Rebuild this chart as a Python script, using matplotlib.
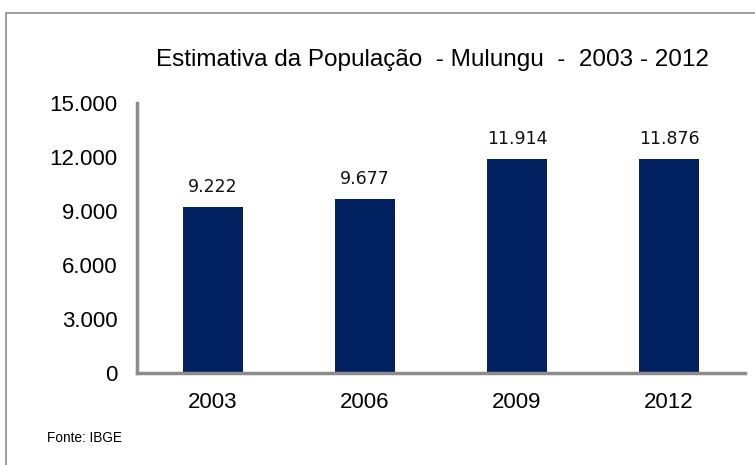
import matplotlib.pyplot as plt
from matplotlib.patches import Rectangle

# dados
anos = ["2003", "2006", "2009", "2012"]
populacao = [9222, 9677, 11914, 11876]
rotulos = ["9.222", "9.677", "11.914", "11.876"]
yticks = [0, 3000, 6000, 9000, 12000, 15000]
ytick_labels = ["0", "3.000", "6.000", "9.000", "12.000", "15.000"]

plt.rcParams['font.family'] = ['Liberation Sans', 'DejaVu Sans']

fig = plt.figure(figsize=(7.55, 4.65), dpi=100)

# moldura
fig.patches.append(Rectangle((6 / 755, -0.1), 1.2, 1 - 13 / 465 + 0.1,
                             transform=fig.transFigure, fill=False,
                             edgecolor='#8c8c8c', linewidth=1.2))

ax = fig.add_axes([137 / 755, 92 / 465, 608 / 755, 270 / 465])
x = range(len(anos))
ax.bar(x, populacao, width=0.39, color='#002060')

for i, v in enumerate(populacao):
    ax.text(i, v + 600, rotulos[i], ha='center', va='bottom',
            fontsize=12.5, family='DejaVu Sans', color='#111111')

ax.set_xlim(-0.5, 3.5)
ax.set_ylim(0, 15000)
ax.set_yticks(yticks)
ax.set_yticklabels(ytick_labels, fontsize=16)
ax.set_xticks(list(x))
ax.set_xticklabels(anos, fontsize=16)
ax.tick_params(axis='y', length=0, pad=14)
ax.tick_params(axis='x', length=0, pad=14)

for s in ['top', 'right']:
    ax.spines[s].set_visible(False)
for s in ['left', 'bottom']:
    ax.spines[s].set_color('#8c8c8c')
    ax.spines[s].set_linewidth(2.5)

fig.text(432 / 755, 1 - 60 / 465, "Estimativa da População  - Mulungu  -  2003 - 2012",
         ha='center', va='center', fontsize=17.5)
fig.text(47 / 755, 1 - 438 / 465, "Fonte: IBGE", ha='left', va='center', fontsize=9.8)

fig.savefig("out.png", dpi=100)
